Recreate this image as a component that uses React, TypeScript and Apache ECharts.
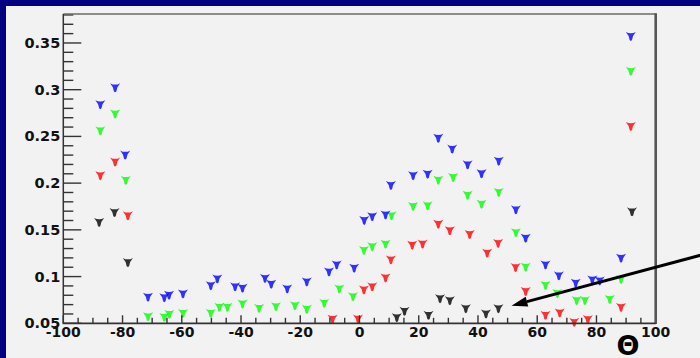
import React, { useEffect, useRef } from "react";
import * as echarts from "echarts";

// ---- data ----
const blueX = [-87.5, -82.5, -79.1, -71.4, -65.9, -64.3, -59.6, -50.2, -48.0, -42.0, -39.5, -31.9, -29.8, -24.4, -17.8, -10.3, -7.7, -1.8, 1.6, 4.3, 8.8, 10.6, 18.1, 23.0, 26.6, 31.3, 36.5, 41.2, 47.0, 52.8, 56.1, 62.8, 67.3, 73.0, 78.6, 81.1, 88.3, 91.6];
const blueY = [0.284, 0.302, 0.23, 0.078, 0.0774, 0.08, 0.0814, 0.0903, 0.0975, 0.089, 0.0875, 0.098, 0.0918, 0.0868, 0.0943, 0.105, 0.1125, 0.109, 0.16, 0.164, 0.166, 0.1975, 0.208, 0.2096, 0.248, 0.2364, 0.2196, 0.21, 0.2235, 0.1714, 0.141, 0.1125, 0.1008, 0.0929, 0.0964, 0.0953, 0.1196, 0.357];

const greenX = [-87.5, -82.5, -78.9, -71.4, -65.9, -64.2, -59.6, -50.2, -47.3, -44.6, -39.5, -33.9, -28.2, -21.8, -17.8, -11.9, -6.8, -2.2, 1.5, 4.3, 8.8, 10.8, 18.1, 23.0, 26.6, 31.6, 36.5, 41.2, 47.0, 52.8, 56.1, 62.8, 66.8, 73.3, 76.1, 84.5, 88.3, 91.6];
const greenY = [0.256, 0.274, 0.203, 0.057, 0.0564, 0.0596, 0.0607, 0.0607, 0.0671, 0.0671, 0.0707, 0.066, 0.0678, 0.0689, 0.065, 0.0714, 0.0868, 0.0785, 0.128, 0.132, 0.1346, 0.165, 0.175, 0.1757, 0.2032, 0.206, 0.187, 0.1775, 0.19, 0.147, 0.11, 0.0905, 0.082, 0.0743, 0.0743, 0.0755, 0.097, 0.3196];

const redX = [-87.5, -82.5, -78.2, -9.1, -0.5, 1.5, 4.3, 8.8, 10.6, 17.8, 21.3, 26.6, 30.5, 37.2, 43.1, 46.8, 52.7, 56.1, 62.8, 67.6, 72.5, 77.1, 88.3, 91.6];
const redY = [0.208, 0.2225, 0.165, 0.0543, 0.0545, 0.0857, 0.089, 0.0985, 0.1178, 0.1335, 0.1348, 0.156, 0.149, 0.145, 0.125, 0.1355, 0.1096, 0.084, 0.0585, 0.061, 0.051, 0.054, 0.067, 0.2607];

const blackX = [-87.9, -82.7, -78.2, 12.6, 15.2, 23.3, 27.2, 30.5, 35.9, 42.7, 46.9, 92.0];
const blackY = [0.158, 0.1685, 0.115, 0.056, 0.0628, 0.0585, 0.0764, 0.0742, 0.0656, 0.06, 0.0656, 0.1693];

const yMajorTicks = [0.05, 0.1, 0.15, 0.2, 0.25, 0.3, 0.35];
const yTickLabels = ["0.05", "0.1", "0.15", "0.2", "0.25", "0.3", "0.35"];
const yMinorTicks = [0.06, 0.07, 0.08, 0.09, 0.11, 0.12, 0.13, 0.14, 0.16, 0.17, 0.18, 0.19, 0.21, 0.22, 0.23, 0.24, 0.26, 0.27, 0.28, 0.29, 0.31, 0.32, 0.33, 0.34, 0.36, 0.37, 0.38];
const xMajorTicks = [-100, -80, -60, -40, -20, 0, 20, 40, 60, 80, 100];
const xMinorTicks = [-95, -90, -85, -75, -70, -65, -55, -50, -45, -35, -30, -25, -15, -10, -5, 5, 10, 15, 25, 30, 35, 45, 50, 55, 65, 70, 75, 85, 90, 95];
const xAxisMin = -100;
const xAxisMax = 100;
const xStep = 20;
const yAxisMin = 0.05;
const yAxisMax = 0.381;
const axisTitle = "Θ";

const zip = (xs: number[], ys: number[]) => xs.map((x, i) => [x, ys[i]]);

const markerPath = "path://M0,0 L2.5,1.2 L5,1.4 L7.5,1.2 L10,0 L7.2,4.6 L6.2,9 L5,10 L3.8,9 L2.8,4.6 Z";

const FONT = "DejaVu Sans";

// plot frame in pixels
const G_LEFT = 63.3;
const G_RIGHT = 655.7;
const G_TOP = 14;
const G_BOTTOM = 323.3;

export default function App() {
  const ref = useRef<HTMLDivElement>(null);

  useEffect(() => {
    document.body.style.margin = "0";
    if (!ref.current) return;
    const chart = echarts.init(ref.current, undefined, { renderer: "svg" });

    const mk = (name: string, color: string, xs: number[], ys: number[]) => ({
      name,
      type: "scatter",
      xAxisIndex: 0,
      yAxisIndex: 0,
      symbol: markerPath,
      symbolSize: [10, 9],
      itemStyle: { color },
      data: zip(xs, ys),
      z: 3,
    });

    // tick marks drawn as thin rect symbols placed through the axes' scales
    const tickSeries = (name: string, data: number[][], size: number[], offset: number[]) => ({
      name,
      type: "scatter",
      silent: true,
      clip: false,
      z: 9,
      symbol: "rect",
      symbolSize: size,
      symbolOffset: offset,
      symbolKeepAspect: false,
      itemStyle: { color: "#333", opacity: 1 },
      emphasis: { disabled: true },
      data,
    });

    // arrow geometry (annotation)
    const tip = [511.5, 305.8];
    const tail = [702, 254.8];
    const dx = tail[0] - tip[0];
    const dy = tail[1] - tip[1];
    const len = Math.hypot(dx, dy);
    const ux = dx / len, uy = dy / len;
    const px = -uy, py = ux;
    const headLen = 16, headW = 5;
    const base = [tip[0] + ux * headLen, tip[1] + uy * headLen];

    chart.setOption({
      animation: false,
      backgroundColor: "transparent",
      grid: {
        left: G_LEFT,
        right: 700 - G_RIGHT,
        top: G_TOP,
        bottom: 358 - G_BOTTOM,
        containLabel: false,
        show: false,
      },
      xAxis: {
        type: "value",
        min: xAxisMin,
        max: xAxisMax,
        interval: xStep,
        position: "bottom",
        splitLine: { show: false },
        axisLine: { show: false, onZero: false },
        axisTick: { show: false },
        minorTick: { show: false },
        axisLabel: {
          show: true,
          margin: 2,
          color: "#111",
          fontFamily: FONT,
          fontWeight: "bold",
          fontSize: 14,
          showMinLabel: true,
          showMaxLabel: true,
        },
      },
      yAxis: {
        type: "value",
        min: yAxisMin,
        max: yAxisMax,
        position: "left",
        splitLine: { show: false },
        axisLine: { show: false, onZero: false },
        axisTick: { show: false },
        axisLabel: {
          show: true,
          margin: 3,
          color: "#111",
          fontFamily: FONT,
          fontWeight: "bold",
          fontSize: 14.5,
          customValues: yMajorTicks,
          formatter: (v: number) => {
            let best = 0;
            yMajorTicks.forEach((t, i) => {
              if (Math.abs(t - v) < Math.abs(yMajorTicks[best] - v)) best = i;
            });
            return yTickLabels[best];
          },
        },
      },
      series: [
        tickSeries("xMajor", xMajorTicks.map((v) => [v, yAxisMin]), [1.4, 8], [0, -4]),
        tickSeries("xMinor", xMinorTicks.map((v) => [v, yAxisMin]), [1.4, 5.5], [0, -2.75]),
        tickSeries("yMajor", yMajorTicks.map((v) => [xAxisMin, v]), [18, 1.4], [9, 0]),
        tickSeries("yMinor", yMinorTicks.map((v) => [xAxisMin, v]), [10, 1.4], [5, 0]),
        mk("black", "#000000", blackX, blackY),
        mk("red", "#ff0000", redX, redY),
        mk("green", "#00ff00", greenX, greenY),
        mk("blue", "#0000ff", blueX, blueY),
      ],
      graphic: [
        {
          type: "line",
          shape: { x1: G_LEFT, y1: G_TOP, x2: G_RIGHT, y2: G_TOP },
          style: { stroke: "#6a6a6a", lineWidth: 1.5 },
          z: 10,
        },
        {
          type: "line",
          shape: { x1: G_RIGHT, y1: G_TOP - 0.7, x2: G_RIGHT, y2: G_BOTTOM + 0.7 },
          style: { stroke: "#555", lineWidth: 2.6 },
          z: 10,
        },
        {
          type: "line",
          shape: { x1: G_LEFT, y1: G_TOP, x2: G_LEFT, y2: G_BOTTOM },
          style: { stroke: "#333", lineWidth: 1.5 },
          z: 10,
        },
        {
          type: "line",
          shape: { x1: G_LEFT - 0.7, y1: G_BOTTOM, x2: G_RIGHT, y2: G_BOTTOM },
          style: { stroke: "#333", lineWidth: 1.8 },
          z: 10,
        },
        {
          type: "line",
          shape: { x1: tail[0], y1: tail[1], x2: base[0], y2: base[1] },
          style: { stroke: "#000", lineWidth: 3 },
          z: 20,
        },
        {
          type: "polygon",
          shape: {
            points: [
              [tip[0], tip[1]],
              [base[0] + px * headW, base[1] + py * headW],
              [base[0] - px * headW, base[1] - py * headW],
            ],
          },
          style: { fill: "#000" },
          z: 20,
        },
        {
          type: "text",
          x: 628,
          y: 345,
          style: {
            text: axisTitle,
            fontFamily: FONT,
            fontWeight: "bold",
            fontSize: 27,
            fill: "#000",
            align: "center",
            verticalAlign: "middle",
          },
          z: 20,
        },
      ],
    });

    return () => chart.dispose();
  }, []);

  return (
    <div style={{ position: "relative", width: 700, height: 358, background: "#000080", overflow: "hidden" }}>
      <div style={{ position: "absolute", left: 6, top: 6, width: 694, height: 352, background: "#f2f2f2" }} />
      <div ref={ref} style={{ position: "absolute", left: 0, top: 0, width: 700, height: 358 }} />
    </div>
  );
}
